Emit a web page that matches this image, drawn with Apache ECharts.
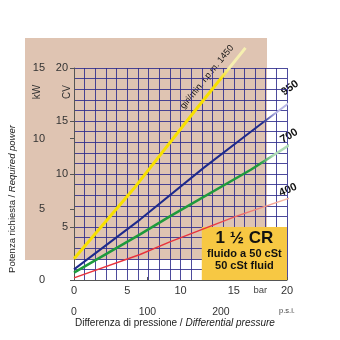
<!DOCTYPE html>
<html>
<head>
<meta charset="utf-8">
<script src="https://cdn.jsdelivr.net/npm/echarts@6/dist/echarts.min.js"></script>
<style>
  html, body { margin: 0; padding: 0; background: #fff; }
  #chart { width: 340px; height: 340px; }
</style>
</head>
<body>
<div id="chart"></div>
<script>
// Power curves (CV) against differential pressure (bar), one per pump speed
const rpm1450 = [[0, 2.0], [5.6, 8.6], [11.3, 15.9], [16.1, 21.9]];
const rpm950  = [[0, 1.0], [6.2, 5.7], [12.2, 10.6], [17.4, 14.6], [21.9, 18.0]];
const rpm700  = [[0, 0.7], [6.2, 4.3], [9.0, 6.0], [16.6, 10.4], [21.1, 13.3]];
const rpm400  = [[0, 0.2], [6.2, 2.4], [9.0, 3.6], [15.2, 6.0], [21.3, 8.1]];

const speedLabels = ['giri/min. r.p.m. 1450', '950', '700', '400'];

const barTicks = [0, 5, 10, 15, 17.5, 20];
const cvTicks  = [5, 10, 15, 20];
const kwTicks  = [0, 5, 10, 15];
const psiTicks = [0, 100, 200, 290];

const boxArea = [[12, 0], [20, 5]];
const boxTitle = '1 ½ CR';
const boxLines = ['fluido a 50 cSt', '50 cSt fluid'];

const FONT = '"Liberation Sans", Arial, sans-serif';
const GRIDLINE = 'rgba(46,44,140,0.85)';
const AXIS = '#555';

function fade(solid, pale, from, to, vertical) {
  // gradient that washes the far end of a curve out to a pale tint
  return new echarts.graphic.LinearGradient(0, vertical ? 1 : 0, vertical ? 0 : 1, 0, [
    { offset: 0, color: solid },
    { offset: from, color: solid },
    { offset: to, color: pale },
    { offset: 1, color: pale }
  ]);
}

function curve(data, width, color) {
  return {
    type: 'line', data: data, symbol: 'none', clip: false, z: 3,
    xAxisIndex: 0, yAxisIndex: 0,
    lineStyle: { width: width, color: color }
  };
}

const hidden = { axisLine: { show: false }, axisTick: { show: false }, axisLabel: { show: false } };

const chart = echarts.init(document.getElementById('chart'), null, { renderer: 'canvas' });

chart.setOption({
  backgroundColor: '#fff',
  animation: false,
  grid: { left: 74, right: 53, top: 68, bottom: 60 },
  xAxis: [
    // 1-bar grid
    Object.assign({
      type: 'value', min: 0, max: 20, interval: 1, position: 'bottom',
      splitLine: { show: true, lineStyle: { color: GRIDLINE, width: 1 } }
    }, hidden),
    // bar labels
    {
      type: 'value', min: 0, max: 20, position: 'bottom',
      axisLine: { show: false }, axisTick: { show: false }, splitLine: { show: false },
      axisLabel: {
        customValues: barTicks, margin: 5, color: '#333', fontSize: 11, fontFamily: FONT,
        formatter: v => v === 17.5 ? '{u|bar}' : String(v),
        rich: { u: { fontSize: 9.5, color: '#444', fontFamily: FONT } }
      }
    },
    // p.s.i. scale
    {
      type: 'value', min: 0, max: 290, position: 'bottom', offset: 23,
      axisLine: { show: true, lineStyle: { color: AXIS, width: 1 } },
      axisTick: { show: true, inside: true, length: 3, customValues: psiTicks, lineStyle: { color: AXIS } },
      splitLine: { show: false },
      axisLabel: {
        customValues: psiTicks, margin: 4, color: '#333', fontSize: 10.5, fontFamily: FONT,
        formatter: v => v === 290 ? '{u|p.s.i.}' : String(v),
        rich: { u: { fontSize: 7.5, color: '#444', fontFamily: FONT } }
      }
    }
  ],
  yAxis: [
    // 1-CV grid
    Object.assign({
      type: 'value', min: 0, max: 20, interval: 1, position: 'left',
      splitLine: { show: true, lineStyle: { color: GRIDLINE, width: 1 } }
    }, hidden),
    // CV labels
    {
      type: 'value', min: 0, max: 20, position: 'left',
      axisLine: { show: false }, splitLine: { show: false },
      axisTick: { show: true, length: 4, customValues: cvTicks, lineStyle: { color: AXIS } },
      axisLabel: { customValues: cvTicks, margin: 6, color: '#333', fontSize: 11, fontFamily: FONT }
    },
    // kW scale
    {
      type: 'value', min: 0, max: 15, position: 'left', offset: 25,
      axisLine: { show: true, lineStyle: { color: AXIS, width: 1 } },
      axisTick: { show: true, length: 4, customValues: kwTicks, lineStyle: { color: AXIS } },
      splitLine: { show: false },
      axisLabel: { customValues: kwTicks, margin: 4, color: '#333', fontSize: 11, fontFamily: FONT }
    }
  ],
  series: [
    curve(rpm1450, 3, fade('#F7E000', '#F6EFB0', 0.84, 0.9, true)),
    curve(rpm950, 2, fade('#1D2A8C', '#B9B8E6', 0.8, 0.86, false)),
    curve(rpm700, 2.5, fade('#1E9A3C', '#AEDBB5', 0.82, 0.88, false)),
    Object.assign(curve(rpm400, 1.5, fade('#E8323C', '#F6B8A4', 0.6, 0.92, false)), {
      markArea: {
        silent: true,
        itemStyle: { color: '#F7C843', borderWidth: 0 },
        label: {
          show: true, position: 'inside', offset: [0, -3],
          formatter: '{a|' + boxTitle + '}\n' + boxLines.map(t => '{b|' + t + '}').join('\n'),
          rich: {
            a: { fontSize: 17, fontWeight: 'bold', color: '#111', fontFamily: FONT, lineHeight: 18 },
            b: { fontSize: 11, fontWeight: 'bold', color: '#111', fontFamily: FONT, lineHeight: 12 }
          }
        },
        data: [[{ coord: boxArea[0] }, { coord: boxArea[1] }]]
      }
    })
  ],
  graphic: [
    {
      type: 'rect', z: -10, silent: true,
      shape: { x: 25, y: 38, width: 242, height: 222 },
      style: { fill: '#DFC4B2' }
    },
    { type: 'text', x: 67, y: 92, rotation: Math.PI / 2,
      style: { text: 'CV', font: '10px ' + FONT, fill: '#333', align: 'center', verticalAlign: 'middle' } },
    { type: 'text', x: 37, y: 92, rotation: Math.PI / 2,
      style: { text: 'kW', font: '10px ' + FONT, fill: '#333', align: 'center', verticalAlign: 'middle' } },
    { type: 'text', x: 12, y: 199, rotation: Math.PI / 2,
      style: {
        text: '{n|Potenza richiesta / }{i|Required power}', align: 'center', verticalAlign: 'middle',
        rich: {
          n: { fontSize: 9.5, fontFamily: FONT, fill: '#222' },
          i: { fontSize: 9.5, fontFamily: FONT, fontStyle: 'italic', fill: '#222' }
        }
      } },
    { type: 'text', x: 75, y: 323,
      style: {
        text: '{n|Differenza di pressione / }{i|Differential pressure}', align: 'left', verticalAlign: 'middle',
        rich: {
          n: { fontSize: 10, fontFamily: FONT, fill: '#222' },
          i: { fontSize: 10, fontFamily: FONT, fontStyle: 'italic', fill: '#222' }
        }
      } },
    { type: 'text', x: 207, y: 77, rotation: 51 * Math.PI / 180,
      style: { text: speedLabels[0], font: '9px ' + FONT, fill: '#111', align: 'center', verticalAlign: 'middle' } },
    { type: 'text', x: 290, y: 88, rotation: 36 * Math.PI / 180,
      style: { text: speedLabels[1], font: 'bold 11px ' + FONT, fill: '#111', align: 'center', verticalAlign: 'middle' } },
    { type: 'text', x: 289, y: 136, rotation: 31 * Math.PI / 180,
      style: { text: speedLabels[2], font: 'bold 11px ' + FONT, fill: '#111', align: 'center', verticalAlign: 'middle' } },
    { type: 'text', x: 288, y: 190, rotation: 24 * Math.PI / 180,
      style: { text: speedLabels[3], font: 'bold 11px ' + FONT, fill: '#111', align: 'center', verticalAlign: 'middle' } }
  ]
});
</script>
</body>
</html>
